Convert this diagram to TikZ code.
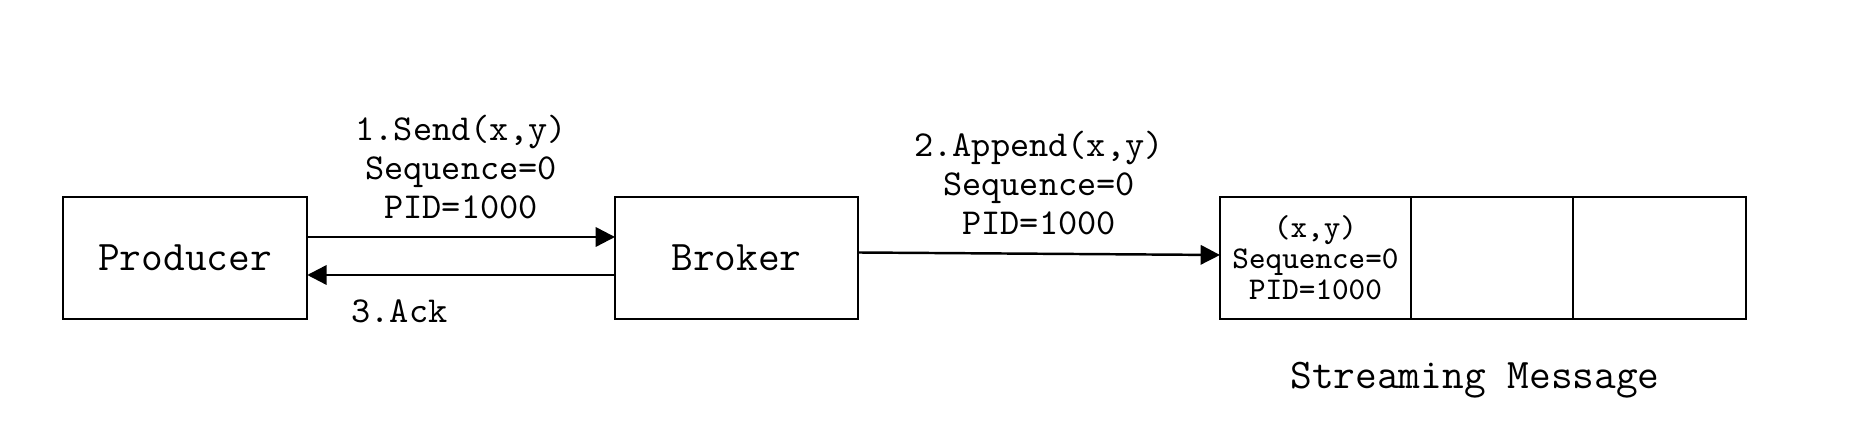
\documentclass[tikz,border=0pt]{standalone}
\usepackage{fontspec}
\usetikzlibrary{arrows.meta,positioning}

\begin{document}
\begin{tikzpicture}[
    box/.style={rectangle, draw, line width=0.7pt, minimum height=1.22cm, inner sep=0pt, outer sep=0pt, font=\ttfamily\fontsize{12}{13}\selectfont},
    cellbox/.style={rectangle, draw, line width=0.7pt, minimum height=1.22cm, inner sep=0pt, outer sep=0pt, align=center, font=\ttfamily\fontsize{9}{8.8}\selectfont},
    msg/.style={align=center, inner sep=0pt, font=\ttfamily\fontsize{10.4}{11.1}\selectfont},
    flow/.style={-{Triangle[length=5.5pt,width=5.5pt]}, line width=0.7pt}
]
\useasboundingbox (0,0) rectangle (18.5,4.22);

% Endpoints
\node[box, minimum width=2.445cm] (producer) at (1.85,1.64) {Producer};
\node[box, minimum width=2.43cm] (broker) at (7.365,1.64) {Broker};

% Stream
\node[cellbox, minimum width=1.91cm] (cell1) at (13.155,1.64) {(x,y)\\Sequence=0\\PID=1000};
\node[cellbox, minimum width=1.62cm, right=0pt of cell1] (cell2) {};
\node[cellbox, minimum width=1.73cm, right=0pt of cell2] (cell3) {};
\node[box, draw=none, minimum height=0pt] (streamLbl) at (14.75,0.42) {Streaming Message};

% Messages
\draw[flow] ([yshift=2.1mm]producer.east) -- ([yshift=2.1mm]broker.west)
    node[msg, midway, above=1.7mm] (sendLbl) {1.Send(x,y)\\Sequence=0\\PID=1000};
\draw[flow] ([yshift=-1.7mm]broker.west) -- ([yshift=-1.7mm]producer.east)
    node[msg, pos=0.7, below=2.4mm] (ackLbl) {3.Ack};
\draw[flow] ([yshift=0.55mm]broker.east) -- ([yshift=0.3mm]cell1.west)
    node[msg, midway, above=1.8mm] (appendLbl) {2.Append(x,y)\\Sequence=0\\PID=1000};

\end{tikzpicture}
\end{document}
